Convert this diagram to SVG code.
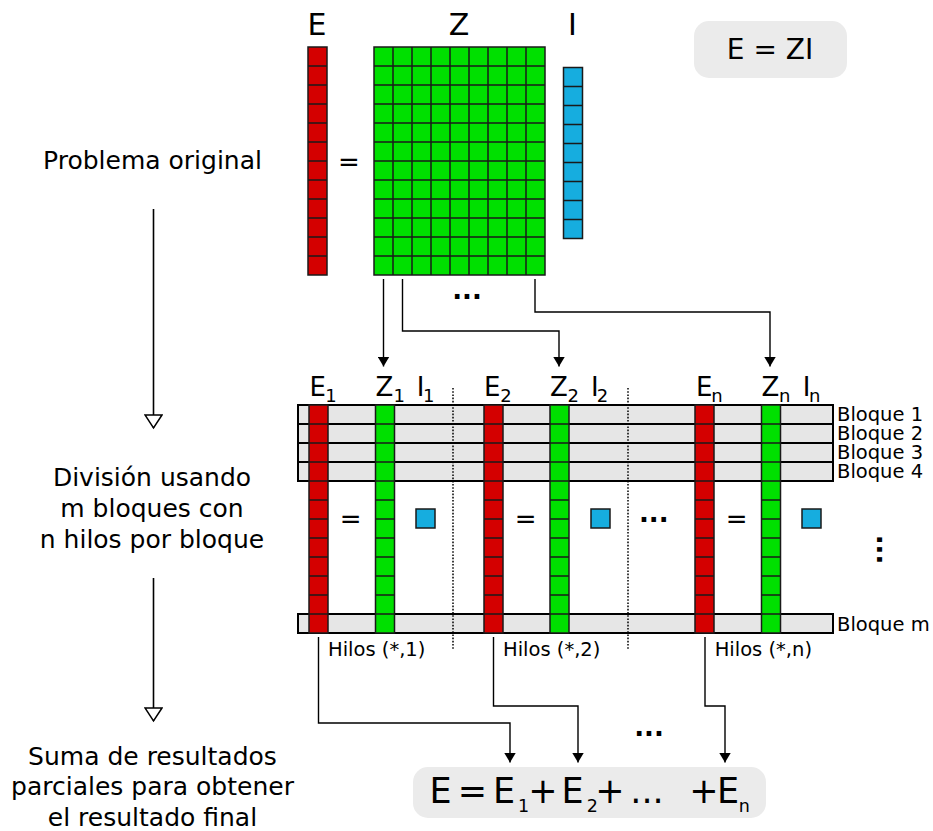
<svg xmlns="http://www.w3.org/2000/svg" width="933" height="831" viewBox="0 0 933 831">
  <style>
    text { font-family: "DejaVu Sans", "Liberation Sans", sans-serif; fill: #000; }
    .lbl { font-size: 30px; text-anchor: middle; }
    .sym { font-size: 26px; text-anchor: middle; }
    .sub { font-size: 18px; text-anchor: middle; }
    .side { font-size: 25px; text-anchor: middle; }
    .blk { font-size: 19.5px; }
    .dots { font-size: 26px; font-weight: bold; text-anchor: middle; }
    .red { fill: #d40000; stroke: #1a1a1a; stroke-width: 1.5; }
    .green { fill: #00e000; stroke: #1a1a1a; stroke-width: 1.5; }
    .blue { fill: #16addf; stroke: #1a1a1a; stroke-width: 1.5; }
    .grid { fill: none; stroke: #1a1a1a; stroke-width: 1.5; }
    .row { fill: #e6e6e6; stroke: #000; stroke-width: 2; }
    .conn { fill: none; stroke: #000; stroke-width: 1.4; }
    .flow { fill: none; stroke: #000; stroke-width: 1.6; }
    .sep { fill: none; stroke: #000; stroke-width: 1.5; stroke-dasharray: 1.6 1.6; }
    .pill { fill: #ebebeb; }
  </style>
  <defs>
    <marker id="arrow" viewBox="0 0 10 12" refX="10" refY="6" markerWidth="10" markerHeight="12" markerUnits="userSpaceOnUse" orient="auto">
      <path d="M0,0 L10,6 L0,12 z" fill="#000"/>
    </marker>
    <marker id="open" viewBox="-1 -1 16 19" refX="13" refY="8.5" markerWidth="16" markerHeight="19" markerUnits="userSpaceOnUse" orient="auto">
      <path d="M0,0 L13,8.5 L0,17 z" fill="#fff" stroke="#000" stroke-width="1.5"/>
    </marker>
    <!-- a 12-cell column, one cell wide, origin at its top-left -->
    <g id="col12">
      <rect x="0" y="0" width="19" height="228"/>
      <path class="grid" d="M0,19H19M0,38H19M0,57H19M0,76H19M0,95H19M0,114H19M0,133H19M0,152H19M0,171H19M0,190H19M0,209H19"/>
    </g>
  </defs>

  <!-- original problem: E = Z I -->
  <g id="matrix-E">
    <text class="lbl" x="317" y="35">E</text>
    <use href="#col12" class="red" x="308" y="47"/>
  </g>
  <g id="equals-top">
    <text class="sym" x="349" y="170.5">=</text>
  </g>
  <g id="matrix-Z">
    <text class="lbl" x="459" y="35">Z</text>
    <rect class="green" x="374" y="47" width="171" height="228"/>
    <path class="grid" d="M393,47V275M412,47V275M431,47V275M450,47V275M469,47V275M488,47V275M507,47V275M526,47V275
      M374,66H545M374,85H545M374,104H545M374,123H545M374,142H545M374,161H545M374,180H545M374,199H545M374,218H545M374,237H545M374,256H545"/>
  </g>
  <g id="matrix-I">
    <text class="lbl" x="572.5" y="35">I</text>
    <rect class="blue" x="563.5" y="67.5" width="19" height="171"/>
    <path class="grid" d="M563.5,86.5H582.5M563.5,105.5H582.5M563.5,124.5H582.5M563.5,143.5H582.5M563.5,162.5H582.5M563.5,181.5H582.5M563.5,200.5H582.5M563.5,219.5H582.5"/>
  </g>
  <g id="dots-top">
    <text class="dots" x="467" y="298.5">...</text>
  </g>
  <g id="formula-top">
    <rect class="pill" x="694" y="21" width="153" height="57" rx="15"/>
    <text x="770" y="59" font-size="28" text-anchor="middle">E = ZI</text>
  </g>

  <!-- side captions -->
  <g id="caption-1">
    <text class="side" x="152.5" y="169">Problema original</text>
  </g>
  <g id="caption-2">
    <text class="side" x="152" y="485.5">División usando</text>
    <text class="side" x="152" y="516.5">m bloques con</text>
    <text class="side" x="152" y="547.5">n hilos por bloque</text>
  </g>
  <g id="caption-3">
    <text class="side" x="152.5" y="764.5">Suma de resultados</text>
    <text class="side" x="152.5" y="795">parciales para obtener</text>
    <text class="side" x="152.5" y="825.5">el resultado final</text>
  </g>

  <!-- thread blocks -->
  <g id="blocks">
    <rect class="row" x="298" y="405" width="535" height="19"/>
    <rect class="row" x="298" y="424" width="535" height="19"/>
    <rect class="row" x="298" y="443" width="535" height="19"/>
    <rect class="row" x="298" y="462" width="535" height="19"/>
    <rect class="row" x="298" y="614" width="535" height="19"/>
    <text class="blk" x="837" y="421">Bloque 1</text>
    <text class="blk" x="837" y="440">Bloque 2</text>
    <text class="blk" x="837" y="459">Bloque 3</text>
    <text class="blk" x="837" y="478">Bloque 4</text>
    <text class="blk" x="837" y="631">Bloque m</text>
    <text class="dots" transform="translate(877,549.5) rotate(90)" x="0" y="0">...</text>
  </g>

  <g id="separators">
    <path class="sep" d="M453,388V650M628,388V650"/>
  </g>

  <g id="thread-1">
    <text class="sym" x="317.7" y="395.7">E</text>
    <text class="sub" x="331" y="401.5">1</text>
    <text class="sym" x="384.5" y="395.7">Z</text>
    <text class="sub" x="399.3" y="401.5">1</text>
    <text class="sym" x="420.5" y="395.7">I</text>
    <text class="sub" x="428.8" y="401.5">1</text>
    <use href="#col12" class="red" x="309" y="405"/>
    <use href="#col12" class="green" x="375.5" y="405"/>
    <text class="sym" x="350.7" y="527.5">=</text>
    <rect class="blue" x="416" y="509" width="19" height="19"/>
    <text class="blk" x="328" y="655.7">Hilos (*,1)</text>
  </g>

  <g id="thread-2">
    <text class="sym" x="492.3" y="395.7">E</text>
    <text class="sub" x="506" y="401.5">2</text>
    <text class="sym" x="559" y="395.7">Z</text>
    <text class="sub" x="573.3" y="401.5">2</text>
    <text class="sym" x="594.8" y="395.7">I</text>
    <text class="sub" x="602.5" y="401.5">2</text>
    <use href="#col12" class="red" x="484" y="405"/>
    <use href="#col12" class="green" x="550" y="405"/>
    <text class="sym" x="525.7" y="527.5">=</text>
    <rect class="blue" x="591" y="509" width="19" height="19"/>
    <text class="blk" x="503" y="655.7">Hilos (*,2)</text>
  </g>

  <g id="dots-middle">
    <text class="dots" x="653.7" y="521.5">...</text>
  </g>

  <g id="thread-n">
    <text class="sym" x="704.3" y="395.7">E</text>
    <text class="sub" x="717" y="401.5">n</text>
    <text class="sym" x="770.5" y="395.7">Z</text>
    <text class="sub" x="784.7" y="401.5">n</text>
    <text class="sym" x="806.5" y="395.7">I</text>
    <text class="sub" x="814.8" y="401.5">n</text>
    <use href="#col12" class="red" x="695" y="405"/>
    <use href="#col12" class="green" x="761.5" y="405"/>
    <text class="sym" x="736.7" y="527.5">=</text>
    <rect class="blue" x="802" y="509" width="19" height="19"/>
    <text class="blk" x="714.7" y="655.7">Hilos (*,n)</text>
  </g>

  <g id="dots-bottom">
    <text class="dots" x="649" y="736">...</text>
  </g>

  <!-- final sum -->
  <g id="formula-sum">
    <rect class="pill" x="413" y="767" width="353" height="51" rx="15"/>
    <g font-size="35" text-anchor="middle">
      <text x="440.5" y="803.3">E</text>
      <text x="472.5" y="803.3">=</text>
      <text x="504" y="803.3">E</text>
      <text x="543" y="803.3">+</text>
      <text x="572.5" y="803.3">E</text>
      <text x="610" y="803.3">+</text>
      <text x="647" y="803.3">...</text>
      <text x="704" y="803.3">+</text>
      <text x="728" y="803.3">E</text>
    </g>
    <g font-size="17.5" text-anchor="middle">
      <text x="523.5" y="811.7">1</text>
      <text x="592.2" y="811.7">2</text>
      <text x="744.2" y="811.7">n</text>
    </g>
  </g>

  <!-- connectors -->
  <g id="connectors">
    <path class="conn" marker-end="url(#arrow)" d="M383.5,279V366.5"/>
    <path class="conn" marker-end="url(#arrow)" d="M402.5,279V331H559V366.5"/>
    <path class="conn" marker-end="url(#arrow)" d="M535,279V312H770V366.5"/>
    <path class="conn" marker-end="url(#arrow)" d="M318.5,637V723H510V762.5"/>
    <path class="conn" marker-end="url(#arrow)" d="M493.5,637V706H578V762.5"/>
    <path class="conn" marker-end="url(#arrow)" d="M705,637V706H725V762.5"/>
    <path class="flow" marker-end="url(#open)" d="M153.5,209V428"/>
    <path class="flow" marker-end="url(#open)" d="M153.5,578V721"/>
  </g>
</svg>
